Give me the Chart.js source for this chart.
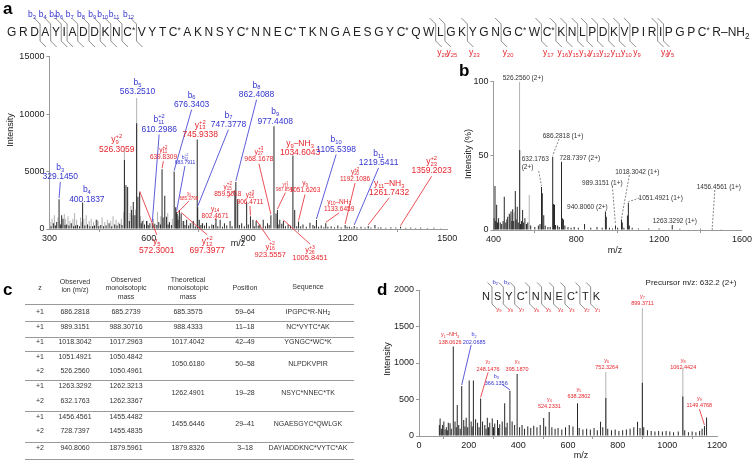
<!DOCTYPE html>
<html>
<head>
<meta charset="utf-8">
<title>Peptide MS/MS spectra</title>
<script src="https://cdn.jsdelivr.net/npm/chart.js@4.4.1/dist/chart.umd.min.js"></script>
<style>
  html, body { margin: 0; padding: 0; background: #fff; }
  body { width: 753px; height: 460px; position: relative; overflow: hidden; font-family: "Liberation Sans", Arial, sans-serif; color: #222; }
  .box { position: absolute; }
  .panel { position: absolute; font-weight: bold; font-size: 17px; line-height: 17px; color: #000; }
  .ct { position: absolute; transform: translate(-50%, -50%); white-space: nowrap; font-size: 9px; color: #222; }
  .rot { transform: translate(-50%, -50%) rotate(-90deg); }
  .tc { position: absolute; transform: translate(-50%, -50%); white-space: nowrap; font-size: 7px; line-height: 8px; color: #333; }
  .tc sub { font-size: 5px; vertical-align: -1px; }
  .rule { position: absolute; left: 25px; width: 329px; height: 0; border-top: 1px solid #999; }
</style>
</head>
<body>
<canvas id="seq" width="753" height="460" style="position:absolute;left:0;top:0"></canvas>
<div class="box" style="left:0;top:40px;width:462px;height:232px"><canvas id="chartA"></canvas></div>
<div class="box" style="left:455px;top:60px;width:298px;height:205px"><canvas id="chartB"></canvas></div>
<div class="box" style="left:383px;top:270px;width:370px;height:186px"><canvas id="chartD"></canvas></div>
<div id="table"></div>

<div class="panel" style="left:3px;top:0px">a</div>
<div class="panel" style="left:459px;top:62px">b</div>
<div class="panel" style="left:3px;top:281px">c</div>
<div class="panel" style="left:377px;top:281px">d</div>

<div class="ct rot" style="left:10px;top:130px">Intensity</div>
<div class="ct" style="left:238px;top:243px">m/z</div>
<div class="ct rot" style="left:468px;top:154px">Intensity (%)</div>
<div class="ct" style="left:615px;top:250px">m/z</div>
<div class="ct rot" style="left:387px;top:359px">Intensity</div>
<div class="ct" style="left:581px;top:455px">m/z</div>
<div class="ct" style="left:691px;top:282px;font-size:8px">Precursor m/z: 632.2 (2+)</div>

<script>
// ---- data -------------------------------------------------------------

// panel a: MS/MS spectrum of the full peptide, [m/z, intensity]
const aBlack = [[305,250],[312,500],[318,300],[322,600],[329.145,2600],[334,400],[337,1200],[341,900],[347,350],[352,400],
  [359,300],[366,500],[373,250],[379,300],[385,350],[391,250],[400.18,2300],[407,300],[415,400],[422,250],[430,250],[436,300],
  [443,800],[449,250],[455,350],[463,250],[471,300],[480,500],[488,250],[497,400],[504,300],[512,450],[519,350],[526.31,6000],
  [531,3800],[536,3650],[541,700],[548,1650],[553,2350],[558,1200],[563.25,9200],[567,2800],[572.3,3200],[577,500],[580,700],
  [587,400],[593,700],[598,350],[603,500],[610.3,500],[618,450],[624,350],[630,600],[635,400],[639.83,5200],[643,1000],[648,2900],
  [653,1060],[658,400],[662,600],[668,350],[676.34,5000],[681,1900],[683.79,1500],[685.38,1300],[688,800],[692,1650],[697.4,1350],
  [705,700],[709,350],[714,800],[720,300],[725,500],[734,700],[740,250],[745.93,7800],[747.38,1900],[752,800],[757,350],[762,500],
  [768,300],[774,550],[782,250],[790,400],[795,350],[802.47,900],[808,250],[815,800],[822,200],[828,500],[835,300],[845,700],
  [851,250],[859.5,3300],[862.41,4100],[868,2600],[873,350],[880,500],[888,250],[895,2350],[900,400],[906.47,1100],[914,800],
  [918,250],[923.56,700],[930,300],[935,400],[945,800],[952,250],[958,500],[963,350],[968.17,1200],[977.44,8950],[983.6,1350],
  [987.85,1650],[990,400],[995,800],[1001,450],[1005.85,700],[1012,250],[1020,400],[1027,300],[1034.6,6400],[1040,1650],
  [1046,250],[1051.63,650],[1058,250],[1065,400],[1075,200],[1086,550],[1095,350],[1100,250],[1105.54,780],[1112,200],[1120,300],
  [1128,150],[1133.65,490],[1140,200],[1150,250],[1160,150],[1170,300],[1180,150],[1192.11,350],[1198,200],[1205,200],[1212,120],
  [1219.54,270],[1228,150],[1240,200],[1252,120],[1261.74,270],[1270,120],[1282,350],[1292,120],[1300,150],[1315,100],[1330,150],
  [1345,120],[1359.2,200],[1375,100],[1390,120],[1405,80],[1420,120],[1440,80],[1460,100],[1480,60]];
const aGrey = [[302,600],[308,900],[315,1200],[326,1000],[331,700],[345,1300],[348,900],[356,1100],[362,700],[371,900],[376,1400],
  [382,800],[394,1000],[397,600],[404,900],[411,1200],[420,700],[426,900],[433,600],[440,800],[447,700],[459,1000],[467,600],
  [475,800],[485,700],[492,1100],[501,800],[508,600],[517,900],[524,1500],[526.31,7000],[543,1400],[546,2000],[551,1200],
  [560,1700],[563.25,11400],[575,1100],[584,800],[596,700],[614,900],[626,1500],[636,1100],[657,1400],[671,900],[690,1100],
  [702,700],[730,600],[760,500],[800,500]];

// panel b: MS spectrum, relative intensity (%)
const bBlack = [[403,8],[407.6,29.7],[411,6],[415.7,17],[420,5],[425,8],[433,5],[440,4],[447,6],[452.5,22.5],[460,5],[465,7],
  [469,9],[476.7,11],[485,12.4],[489,6],[493,14],[498,6],[505.7,26.3],[510,7],[515,15.7],[520,5],[527,54],[531,4],[536,6],[541,13.5],
  [546,5],[552,8],[560,4],[566,5],[580,3],[600,2],[617,3],[625,4],[632.18,29],[636,24.7],[643,10],[650,3],[663,2],[674,2],
  [686.28,49.4],[690,17.5],[695,17],[700,3.4],[710,3],[718,2],[728.74,46],[733,8],[738,7],[745,3],[760,2],[775,1.5],[790,2],
  [810,1.5],[840,4],[870,1.5],[900,2],[925,1.5],[940.81,12.4],[945,9],[960,1.5],[975,1],[989.32,3],[1000,1.5],[1018.3,7],
  [1022,5],[1030,1.5],[1047,9.7],[1051.49,18.4],[1056,3],[1070,1.5],[1100,1],[1150,1],[1200,1],[1263.33,3.4],[1300,0.8],
  [1400,0.8],[1456.46,1],[1500,0.5]];
const bGrey = [[481,10],[500,12],[526.26,100],[573,23.6]];

// panel d: MS/MS spectrum of NSYC*NNEC*TK
const dBlack = [[82,150],[85,240],[90,100],[95,150],[100,200],[105,90],[110,120],[114,80],[118,180],[125,175],[130,100],
  [138.06,1225],[145,200],[150,120],[154,425],[160,150],[166,100],[172,685],[180,220],[185,130],[190,250],[196,120],[202.07,760],
  [210,200],[214,130],[219,760],[228,230],[236,180],[242,120],[248.15,515],[256,200],[265,150],[270,100],[275,250],[280,120],
  [285,180],[295,240],[300,120],[305,170],[316,220],[320,110],[325,160],[335,200],[345,450],[350,120],[355,180],[366.14,620],
  [375,200],[385,150],[395.19,850],[405,120],[415,150],[425,100],[438,130],[450,110],[462,140],[475,120],[488,150],[502,245],
  [510,130],[524.23,330],[535,120],[548,100],[560,110],[575,90],[590,120],[605,150],[620,130],[638.28,450],[645,110],[660,90],
  [675,100],[690,90],[705,110],[718,80],[731,195],[740,120],[752.33,520],[760,100],[775,80],[790,90],[805,70],[820,80],[835,90],
  [850,100],[865,120],[880,195],[890,110],[899.37,730],[905,120],[920,80],[935,70],[950,60],[965,70],[980,60],[995,70],[1010,60],
  [1025,50],[1044,60],[1062.44,540],[1070,80],[1085,50],[1100,60],[1115,50],[1130,70],[1140,100],[1149.48,137],[1158,255]];
const dGrey = [[752.33,880],[899.37,1750],[1062.44,940]];

// peptide sequences and observed fragment ions
const seqA = 'G R D A Y I A D D K N C* V Y T C* A K N S Y C* N N E C* T K N G A E S G Y C* Q W L G K Y G N G C* W C* K N L P D K V P I R I P G P C* R'.split(' ');
const seqAb = [3, 4, 5, 6, 7, 8, 9, 10, 11, 12];
const seqAy = [26, 25, 23, 20, 17, 16, 15, 14, 13, 12, 11, 10, 9, 6, 5];
const seqD = 'N S Y C* N N E C* T K'.split(' ');
const seqDb = [2, 3];
const seqDy = [9, 8, 7, 6, 5, 4, 3, 2, 1];

// panel c table
const tZ = ['+1', '+1', '+1', '+1', '+2', '+1', '+2', '+1', '+2', '+2'];
const tObsIon = ['686.2818', '989.3151', '1018.3042', '1051.4921', '526.2560', '1263.3292', '632.1763', '1456.4561', '728.7397', '940.8060'];
const tObsMono = ['685.2739', '988.30716', '1017.2963', '1050.4842', '1050.4961', '1262.3213', '1262.3367', '1455.4482', '1455.4835', '1879.5961'];
const tTheo = ['685.3575', '988.4333', '1017.4042', '1050.6180', '1262.4901', '1455.6446', '1879.8326'];
const tPos = ['59–64', '11–18', '42–49', '50–58', '19–28', '29–41', '3–18'];
const tSeq = ['IPGPC*R-NH_{2}', 'NC*VYTC*AK', 'YGNGC*WC*K', 'NLPDKVPIR', 'NSYC*NNEC*TK', 'NGAESGYC*QWLGK', 'DAYIADDKNC*VYTC*AK'];
const tGroups = [[0], [1], [2], [3, 4], [5, 6], [7, 8], [9]];

// ---- styling -----------------------------------------------------------
const FONT = '"Liberation Sans", Arial, Helvetica, sans-serif';
const BLUE = '#3434cf';
const RED = '#e5262d';

// peak labels: text lines, colour, anchor [m/z, intensity], leader target m/z
const aNotes = [
  { t: ['b_{3}', '329.1450'], c: BLUE, at: [333, 5360], to: 329.145 },
  { t: ['b_{4}', '400.1837'], c: BLUE, at: [413, 3390] },
  { t: ['b_{5}', '563.2510'], c: BLUE, at: [566, 12760] },
  { t: ['y_{9}^{+2}', '526.3059'], c: RED, at: [503, 7740] },
  { t: ['b_{11}^{+2}', '610.2986'], c: BLUE, at: [631, 9480], to: 610.3 },
  { t: ['y_{11}^{+2}', '639.8309'], c: RED, at: [644, 6870], to: 639.83, s: 6.5 },
  { t: ['b_{6}', '676.3403'], c: BLUE, at: [729, 11650], to: 676.34 },
  { t: ['b_{12}^{+2}', '683.7911'], c: BLUE, at: [709, 6230], to: 683.79, s: 5 },
  { t: ['y_{13}^{+2}', '745.9338'], c: RED, at: [755, 9040] },
  { t: ['b_{7}', '747.3778'], c: BLUE, at: [840, 9900], to: 747.38 },
  { t: ['y_{6}', '685.3799'], c: RED, at: [721, 3100], to: 685.38, s: 4.5 },
  { t: ['y_{14}', '802.4671'], c: RED, at: [800, 1713], to: 802.47, s: 6.5 },
  { t: ['y_{15}^{+2}', '859.5018'], c: RED, at: [838, 3680], to: 859.5, s: 6.5 },
  { t: ['b_{8}', '862.4088'], c: BLUE, at: [925, 12520], to: 862.41 },
  { t: ['y_{25}^{+3}', '906.4711'], c: RED, at: [905, 2960], to: 906.47, s: 6.5 },
  { t: ['y_{16}^{+2}', '923.5557'], c: RED, at: [966, -1540], to: 923.56, s: 7.5 },
  { t: ['y_{27}^{+3}', '968.1678'], c: RED, at: [932, 6720], to: 968.17, s: 7 },
  { t: ['b_{9}', '977.4408'], c: BLUE, at: [981, 10200] },
  { t: ['y_{17}^{+2}', '987.8542'], c: RED, at: [1012, 3830], to: 987.85, s: 4.5 },
  { t: ['y_{26}^{+3}', '1005.8451'], c: RED, at: [1086, -1830], to: 1005.85, s: 7.5 },
  { t: ['y_{9}–NH_{3}', '1034.6043'], c: RED, at: [1056, 7450] },
  { t: ['y_{9}', '1051.6263'], c: RED, at: [1071, 3970], to: 1051.63, s: 6.5 },
  { t: ['b_{10}', '1105.5398'], c: BLUE, at: [1165, 7740], to: 1105.54 },
  { t: ['y_{10}–NH_{3}', '1133.6459'], c: RED, at: [1174, 2370], to: 1133.65, s: 6.5 },
  { t: ['y_{20}^{+2}', '1192.1086'], c: RED, at: [1222, 4960], to: 1192.11, s: 6.5 },
  { t: ['b_{11}', '1219.5411'], c: BLUE, at: [1293, 6580], to: 1219.54 },
  { t: ['y_{11}–NH_{3}', '1261.7432'], c: RED, at: [1325, 3970], to: 1261.74 },
  { t: ['y_{23}^{+2}', '1359.2023'], c: RED, at: [1453, 5850], to: 1359.2 },
  { t: ['y_{5}', '572.3001'], c: RED, at: [624, -1100], to: 572.3 },
  { t: ['y_{12}^{+2}', '697.3977'], c: RED, at: [776, -1100], to: 697.4 }
];

const bNotes = [
  { t: ['526.2560 (2+)'], at: [543, 102.5] },
  { t: ['686.2818 (1+)'], at: [736, 63.4], to: 686.28, from: [-4, 3] },
  { t: ['632.1763', '(2+)'], at: [536.4, 47.9], to: 632.18, align: 'left', from: [17, 12] },
  { t: ['728.7397 (2+)'], at: [817, 48.5] },
  { t: ['1018.3042 (1+)'], at: [1095, 39.1], to: 1018.3, from: [-8, 3] },
  { t: ['989.3151 (1+)'], at: [926, 31.7], to: 989.32, from: [10, 3] },
  { t: ['1051.4921 (1+)'], at: [1207.5, 21.6], to: 1051.49, from: [-21, 0] },
  { t: ['940.8060 (2+)'], at: [854, 15.5] },
  { t: ['1263.3292 (1+)'], at: [1276, 6.1] },
  { t: ['1456.4561 (1+)'], at: [1488, 29], to: 1456.46, from: [-4, 3] }
];

const dNotes = [
  { t: ['y_{1}–NH_{3}', '138.0626'], c: RED, at: [125, 1384] },
  { t: ['b_{2}', '202.0685'], c: BLUE, at: [222, 1384], to: 172, from: [-3, 10] },
  { t: ['y_{2}', '248.1476'], c: RED, at: [278, 1018], to: 248.15 },
  { t: ['b_{3}', '366.1356'], c: BLUE, at: [311, 815], to: 366.14, from: [6, 8] },
  { t: ['y_{3}', '395.1870'], c: RED, at: [395, 1018] },
  { t: ['y_{4}', '524.2331'], c: RED, at: [525, 507] },
  { t: ['y_{5}', '638.2802'], c: RED, at: [644, 644] },
  { t: ['y_{6}', '752.3264'], c: RED, at: [756, 1041] },
  { t: ['y_{7}', '899.3711'], c: RED, at: [900, 1918] },
  { t: ['y_{8}', '1062.4424'], c: RED, at: [1064, 1041] },
  { t: ['y_{9}', '1149.4768'], c: RED, at: [1129, 516], to: 1149.48 }
];

// ---- helpers -----------------------------------------------------------

// draws text with _{sub} and ^{sup} parts, returns its width
function drawRich(ctx, s, x, y, size, color, align) {
  const parts = [];
  const re = /([_^])\{([^}]*)\}|([^_^]+)/g;
  let m;
  while ((m = re.exec(s)) !== null) {
    if (m[3] !== undefined) parts.push({ t: m[3], k: 'n' });
    else parts.push({ t: m[2], k: m[1] });
  }
  let w = 0;
  parts.forEach((p, i) => {
    p.fs = p.k === 'n' ? size : size * 0.68;
    ctx.font = p.fs + 'px ' + FONT;
    p.w = ctx.measureText(p.t).width;
    const prev = parts[i - 1];
    if (p.k === '^' && prev && prev.k === '_') {
      p.x = prev.x;
      w = Math.max(prev.x + prev.w, p.x + p.w);
    } else {
      p.x = w;
      w += p.w;
    }
  });
  const x0 = align === 'left' ? x : x - w / 2;
  ctx.fillStyle = color;
  ctx.textBaseline = 'middle';
  ctx.textAlign = 'left';
  parts.forEach(p => {
    ctx.font = p.fs + 'px ' + FONT;
    const dy = p.k === '_' ? size * 0.3 : (p.k === '^' ? -size * 0.38 : 0);
    ctx.fillText(p.t, x0 + p.x, y + dy);
  });
  return w;
}

function findPeak(peaks, mz) {
  let best = null;
  peaks.forEach(p => {
    if (!best || Math.abs(p[0] - mz) < Math.abs(best[0] - mz) - 1e-6 ||
        (Math.abs(p[0] - best[0]) < 1e-6 && p[1] > best[1])) best = p;
  });
  return best;
}

// plugin that writes the peak labels and their leader lines
function makeNotes(items, peaks, style) {
  return {
    id: 'notes',
    afterDatasetsDraw(chart) {
      const ctx = chart.ctx;
      const xs = chart.scales.x, ys = chart.scales.y;
      ctx.save();
      items.forEach(n => {
        const s = n.s || style.size;
        const lh = s * style.lh;
        const ax = xs.getPixelForValue(n.at[0]);
        const ay = ys.getPixelForValue(n.at[1]);
        const color = n.c || style.color;
        n.t.forEach((line, i) => drawRich(ctx, line, ax, ay + i * lh, s, color, n.align || 'center'));
        if (n.to === undefined) return;
        const pk = findPeak(peaks, n.to);
        const tx = xs.getPixelForValue(pk[0]);
        const ty = ys.getPixelForValue(pk[1]);
        let sx = ax, sy;
        if (n.from) { sx = ax + n.from[0]; sy = ay + n.from[1]; }
        else if (n.at[1] < 0) sy = ay - s * 0.8;
        else sy = ay + (n.t.length - 1) * lh + s * 0.6;
        ctx.beginPath();
        ctx.strokeStyle = style.line || color;
        ctx.lineWidth = 0.8;
        ctx.setLineDash(style.dash || []);
        ctx.moveTo(sx, sy);
        ctx.lineTo(tx, ty - 1);
        ctx.stroke();
      });
      ctx.restore();
    }
  };
}

const tickFont = { family: FONT, size: 9 };
const axisGrid = { drawOnChartArea: false, drawTicks: true, tickLength: 3, color: '#999' };
const axisBorder = { color: '#999', width: 1 };

function spectrum(id, o) {
  const toXY = arr => arr.map(p => ({ x: p[0], y: p[1] }));
  const bar = { barThickness: 1, grouped: false, borderWidth: 0, inflateAmount: 0 };
  return new Chart(document.getElementById(id), {
    type: 'bar',
    data: {
      datasets: [
        { ...bar, data: toXY(o.black), backgroundColor: '#262626' },
        { ...bar, data: toXY(o.grey), backgroundColor: '#b2b2b2' }
      ]
    },
    options: {
      responsive: true,
      maintainAspectRatio: false,
      animation: false,
      events: [],
      layout: { padding: o.pad },
      plugins: { legend: { display: false }, tooltip: { enabled: false } },
      scales: {
        x: {
          type: 'linear', offset: false, min: o.x[0], max: o.x[1],
          ticks: { stepSize: o.x[2], font: tickFont, color: '#222', padding: 1, maxRotation: 0, callback: v => v },
          grid: axisGrid, border: axisBorder,
          afterFit: s => { s.height = o.xH; }
        },
        y: {
          min: o.y[0], max: o.y[1],
          ticks: { stepSize: o.y[2], font: tickFont, color: '#222', padding: 2, callback: v => v },
          grid: axisGrid, border: axisBorder,
          afterFit: s => { s.width = o.yW; }
        }
      }
    },
    plugins: [makeNotes(o.notes, o.black.concat(o.grey), o.style)]
  });
}

// ---- spectra -----------------------------------------------------------
spectrum('chartA', {
  black: aBlack, grey: aGrey, notes: aNotes,
  x: [300, 1500, 300], y: [0, 15000, 5000],
  yW: 49.4, xH: 43, pad: { top: 16.7, right: 14.8, left: 0, bottom: 0 },
  style: { size: 8.5, lh: 1.1, color: RED }
});

spectrum('chartB', {
  black: bBlack, grey: bGrey, notes: bNotes,
  x: [400, 1600, 400], y: [0, 100, 50],
  yW: 38.4, xH: 35, pad: { top: 21.7, right: 10.8, left: 0, bottom: 0 },
  style: { size: 6.5, lh: 1.25, color: '#333', line: '#666', dash: [2, 1.5] }
});

spectrum('chartD', {
  black: dBlack, grey: dGrey, notes: dNotes,
  x: [0, 1200, 200], y: [0, 2000, 500],
  yW: 36, xH: 20, pad: { top: 20, right: 36, left: 0, bottom: 0 },
  style: { size: 5.5, lh: 1.35, color: RED }
});

// ---- sequence diagrams -------------------------------------------------
function drawSequence(ctx, res, o) {
  const widths = res.map(r => {
    ctx.font = o.fs + 'px ' + FONT;
    let w = ctx.measureText(r[0]).width;
    if (r.length > 1) { ctx.font = (o.fs * 0.7) + 'px ' + FONT; w += ctx.measureText('*').width; }
    return w;
  });
  const total = widths.reduce((a, b) => a + b, 0);
  const gap = (o.right - o.left - total) / (res.length - 1);
  const lefts = [];
  let x = o.left;
  res.forEach((r, i) => { lefts.push(x); x += widths[i] + gap; });

  ctx.fillStyle = '#222';
  ctx.textBaseline = 'middle';
  ctx.textAlign = 'left';
  res.forEach((r, i) => {
    ctx.font = o.fs + 'px ' + FONT;
    ctx.fillText(r[0], lefts[i], o.y);
    if (r.length > 1) {
      const cw = ctx.measureText(r[0]).width;
      ctx.font = (o.fs * 0.7) + 'px ' + FONT;
      ctx.fillText('*', lefts[i] + cw, o.y - o.fs * 0.22);
    }
  });
  if (o.tail) drawRich(ctx, o.tail, lefts[res.length - 1] + widths[res.length - 1], o.y, o.fs, '#222', 'left');

  const cutX = k => (lefts[k - 1] + widths[k - 1] + lefts[k]) / 2;
  const cuts = new Set(o.b.concat(o.yIons.map(n => res.length - n)));
  ctx.strokeStyle = '#6a6a6a';
  ctx.lineWidth = 0.75;
  cuts.forEach(k => {
    const cx = cutX(k);
    ctx.beginPath();
    ctx.moveTo(cx - o.diag, o.top - o.diag);
    ctx.lineTo(cx, o.top);
    ctx.lineTo(cx, o.bot);
    ctx.lineTo(cx + o.diag, o.bot + o.diag);
    ctx.stroke();
  });
  o.b.forEach(k => drawRich(ctx, 'b_{' + k + '}', cutX(k) + o.bdx, o.by, o.ls, BLUE, 'center'));
  o.yIons.forEach(n => drawRich(ctx, 'y_{' + n + '}', cutX(res.length - n) + o.ydx, o.yy, o.ls, RED, 'center'));
}

const sctx = document.getElementById('seq').getContext('2d');
drawSequence(sctx, seqA, {
  b: seqAb, yIons: seqAy, left: 7, right: 721, y: 33, fs: 12, tail: '–NH_{2}',
  top: 24, bot: 41, diag: 6, bdx: -8, by: 15, ydx: 7, yy: 53, ls: 8.5
});
drawSequence(sctx, seqD, {
  b: seqDb, yIons: seqDy, left: 482, right: 600, y: 296.5, fs: 11,
  top: 287, bot: 304, diag: 4.5, bdx: -8, by: 282, ydx: 7, yy: 309.5, ls: 6
});

// ---- table (panel c) ---------------------------------------------------
const tableCols = [40, 75, 126, 188, 245, 308];
const tableRowY = [311.5, 327, 342, 356.5, 371, 386, 400.5, 416.5, 430.5, 448];
const tableRules = [304, 320.5, 336.5, 350.5, 380, 411, 442, 459];
const tableHead = [
  [['z'], [288]],
  [['Observed', 'ion (m/z)'], [282, 290]],
  [['Observed', 'monoisotopic', 'mass'], [279.5, 288, 296.5]],
  [['Theoretical', 'monoisotopic', 'mass'], [279.5, 288, 296.5]],
  [['Position'], [288]],
  [['Sequence'], [287]]
];

const tbl = document.getElementById('table');
function cell(x, y, html) {
  const d = document.createElement('div');
  d.className = 'tc';
  d.style.left = x + 'px';
  d.style.top = y + 'px';
  d.innerHTML = html;
  tbl.appendChild(d);
}
tableHead.forEach((h, c) => h[0].forEach((line, i) => cell(tableCols[c], h[1][i], line)));
tableRules.forEach(y => {
  const d = document.createElement('div');
  d.className = 'rule';
  d.style.top = y + 'px';
  tbl.appendChild(d);
});
tZ.forEach((v, i) => {
  cell(tableCols[0], tableRowY[i], v);
  cell(tableCols[1], tableRowY[i], tObsIon[i]);
  cell(tableCols[2], tableRowY[i], tObsMono[i]);
});
tGroups.forEach((rows, g) => {
  const y = rows.reduce((a, r) => a + tableRowY[r], 0) / rows.length;
  cell(tableCols[3], y, tTheo[g]);
  cell(tableCols[4], y, tPos[g]);
  cell(tableCols[5], y, tSeq[g].replace(/_\{([^}]*)\}/g, '<sub>$1</sub>'));
});
</script>
</body>
</html>
